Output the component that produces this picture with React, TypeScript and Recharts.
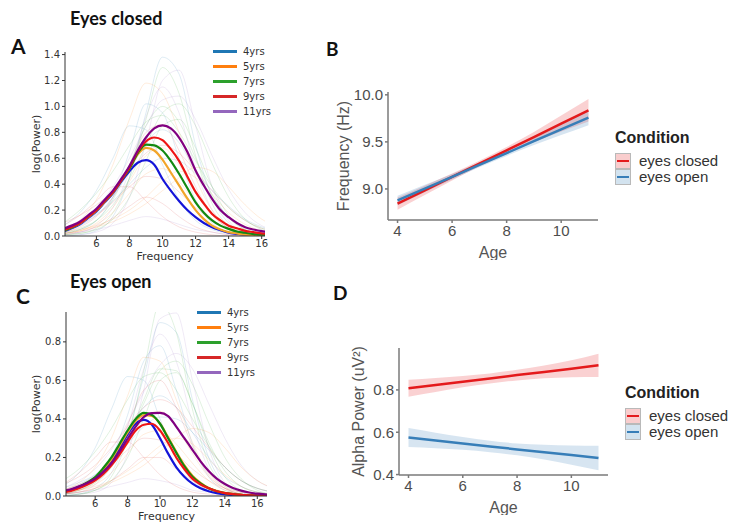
import { LineChart, Line, XAxis, YAxis, ComposedChart, Area } from "recharts";

// ---- panels A / C: spectra per age group ----
const freqFine = [4, 4.5, 5, 5.5, 6, 6.5, 7, 7.5, 8, 8.5, 9, 9.5, 10, 10.5, 11, 11.5, 12, 12.5, 13, 13.5, 14, 14.5, 15, 15.5, 16, 16.5, 17];
const freqCoarse = [4, 5, 6, 7, 8, 9, 10, 11, 12, 13, 14, 15, 16, 17];
const groups = ["4yrs", "5yrs", "7yrs", "9yrs", "11yrs"];
const curveColors = ["#1414d8", "#f2a52a", "#128a12", "#ee1515", "#800080"];
const legendColors = ["#1f77b4", "#ff7f0e", "#2ca02c", "#d62728", "#9467bd"];

const closed4 = [0.035, 0.06, 0.09, 0.14, 0.19, 0.26, 0.33, 0.42, 0.5, 0.565, 0.585, 0.55, 0.44, 0.35, 0.27, 0.2, 0.145, 0.1, 0.068, 0.045, 0.025, 0.017, 0.01, 0.006, 0.003, 0.002, 0.001];
const closed5 = [0.04, 0.065, 0.095, 0.145, 0.195, 0.265, 0.335, 0.43, 0.52, 0.63, 0.68, 0.66, 0.59, 0.49, 0.39, 0.29, 0.2, 0.13, 0.08, 0.05, 0.03, 0.02, 0.01, 0.007, 0.005, 0.003, 0.002];
const closed7 = [0.04, 0.065, 0.1, 0.15, 0.2, 0.27, 0.34, 0.43, 0.52, 0.64, 0.705, 0.7, 0.66, 0.58, 0.48, 0.37, 0.26, 0.18, 0.12, 0.08, 0.055, 0.035, 0.025, 0.015, 0.01, 0.006, 0.004];
const closed9 = [0.045, 0.07, 0.1, 0.15, 0.2, 0.27, 0.34, 0.43, 0.53, 0.65, 0.73, 0.76, 0.74, 0.67, 0.58, 0.46, 0.34, 0.25, 0.17, 0.12, 0.08, 0.06, 0.04, 0.03, 0.02, 0.015, 0.01];
const closed11 = [0.055, 0.08, 0.11, 0.16, 0.21, 0.28, 0.35, 0.44, 0.54, 0.66, 0.76, 0.83, 0.853, 0.83, 0.76, 0.65, 0.506, 0.39, 0.287, 0.2, 0.145, 0.1, 0.068, 0.05, 0.037, 0.03, 0.022];

const open4 = [0.02, 0.03, 0.045, 0.065, 0.09, 0.13, 0.175, 0.245, 0.32, 0.375, 0.395, 0.37, 0.3, 0.22, 0.15, 0.1, 0.064, 0.04, 0.025, 0.015, 0.008, 0.005, 0.003, 0.002, 0.001, 0.001, 0];
const open5 = [0.02, 0.03, 0.045, 0.067, 0.094, 0.14, 0.19, 0.26, 0.33, 0.39, 0.42, 0.415, 0.375, 0.305, 0.23, 0.16, 0.105, 0.068, 0.042, 0.027, 0.016, 0.01, 0.006, 0.004, 0.002, 0.001, 0];
const open7 = [0.022, 0.032, 0.048, 0.07, 0.098, 0.145, 0.2, 0.27, 0.34, 0.4, 0.431, 0.42, 0.375, 0.3, 0.225, 0.155, 0.1, 0.065, 0.04, 0.025, 0.015, 0.01, 0.006, 0.004, 0.002, 0.001, 0];
const open9 = [0.018, 0.026, 0.04, 0.058, 0.081, 0.115, 0.16, 0.215, 0.28, 0.34, 0.37, 0.375, 0.34, 0.275, 0.2, 0.14, 0.09, 0.06, 0.04, 0.025, 0.015, 0.01, 0.006, 0.004, 0.002, 0.001, 0];
const open11 = [0.025, 0.035, 0.05, 0.068, 0.09, 0.125, 0.17, 0.23, 0.297, 0.36, 0.41, 0.43, 0.431, 0.415, 0.36, 0.3, 0.24, 0.18, 0.13, 0.09, 0.062, 0.042, 0.028, 0.018, 0.012, 0.008, 0.005];

// faint individual spectra (1 Hz grid)
const closedSubjects = [
  [0, 0.01, 0.04, 0.15, 0.45, 0.95, 1.38, 1.25, 0.7, 0.3, 0.1, 0.03, 0.01, 0],
  [0.05, 0.12, 0.28, 0.55, 0.9, 1.18, 1.1, 0.8, 0.45, 0.2, 0.08, 0.03, 0.01, 0],
  [0.02, 0.05, 0.12, 0.28, 0.55, 0.85, 1.0, 0.88, 0.6, 0.32, 0.14, 0.05, 0.02, 0.01],
  [0.01, 0.03, 0.07, 0.14, 0.23, 0.3, 0.25, 0.15, 0.07, 0.03, 0.01, 0, 0, 0],
  [0.06, 0.12, 0.22, 0.38, 0.6, 0.85, 1.05, 1.08, 0.9, 0.62, 0.36, 0.18, 0.08, 0.04],
  [0.08, 0.18, 0.35, 0.6, 0.85, 0.82, 0.55, 0.28, 0.12, 0.05, 0.02, 0.01, 0, 0],
  [0.03, 0.05, 0.08, 0.13, 0.2, 0.3, 0.42, 0.5, 0.45, 0.32, 0.18, 0.09, 0.04, 0.02],
  [0.01, 0.02, 0.06, 0.18, 0.45, 0.9, 1.3, 1.1, 0.62, 0.25, 0.08, 0.02, 0.01, 0],
  [0.1, 0.16, 0.24, 0.35, 0.5, 0.64, 0.7, 0.64, 0.5, 0.35, 0.22, 0.12, 0.06, 0.03],
  [0.02, 0.03, 0.05, 0.08, 0.12, 0.15, 0.13, 0.09, 0.05, 0.03, 0.01, 0, 0, 0],
  [0.02, 0.05, 0.12, 0.3, 0.65, 1.02, 0.95, 0.6, 0.28, 0.1, 0.03, 0.01, 0, 0],
  [0.02, 0.04, 0.07, 0.11, 0.17, 0.25, 0.35, 0.45, 0.53, 0.5, 0.38, 0.24, 0.13, 0.07],
  [0.1, 0.2, 0.33, 0.5, 0.7, 0.88, 0.93, 0.8, 0.58, 0.38, 0.22, 0.12, 0.06, 0.03],
  [0.08, 0.16, 0.27, 0.38, 0.38, 0.27, 0.15, 0.07, 0.03, 0.01, 0, 0, 0, 0],
  [0.01, 0.03, 0.08, 0.22, 0.5, 0.92, 1.15, 0.95, 0.52, 0.2, 0.06, 0.02, 0, 0],
  [0.04, 0.08, 0.16, 0.3, 0.5, 0.72, 0.82, 0.72, 0.5, 0.3, 0.15, 0.07, 0.03, 0.01],
  [0.02, 0.04, 0.1, 0.22, 0.42, 0.62, 0.68, 0.55, 0.33, 0.16, 0.06, 0.02, 0.01, 0],
  [0.03, 0.06, 0.12, 0.24, 0.44, 0.7, 0.95, 1.02, 0.85, 0.56, 0.3, 0.13, 0.05, 0.02],
  [0.05, 0.09, 0.16, 0.26, 0.38, 0.46, 0.44, 0.34, 0.22, 0.12, 0.06, 0.03, 0.01, 0],
  [0, 0.01, 0.03, 0.1, 0.3, 0.72, 1.2, 1.28, 0.85, 0.38, 0.12, 0.03, 0.01, 0],
  [0.06, 0.1, 0.17, 0.27, 0.4, 0.53, 0.6, 0.58, 0.48, 0.35, 0.23, 0.13, 0.07, 0.03],
  [0.02, 0.04, 0.09, 0.18, 0.33, 0.48, 0.52, 0.42, 0.26, 0.13, 0.05, 0.02, 0.01, 0],
  [0.01, 0.02, 0.05, 0.13, 0.3, 0.58, 0.85, 0.9, 0.68, 0.38, 0.16, 0.05, 0.02, 0],
  [0.03, 0.07, 0.15, 0.3, 0.55, 0.8, 0.86, 0.66, 0.38, 0.17, 0.06, 0.02, 0.01, 0],
];
const openSubjects = [
  [0, 0.01, 0.04, 0.12, 0.32, 0.62, 0.9, 0.85, 0.5, 0.2, 0.06, 0.02, 0, 0],
  [0.03, 0.07, 0.15, 0.3, 0.52, 0.72, 0.7, 0.5, 0.28, 0.12, 0.05, 0.02, 0.01, 0],
  [0.01, 0.03, 0.07, 0.15, 0.3, 0.5, 0.66, 0.65, 0.48, 0.28, 0.13, 0.05, 0.02, 0.01],
  [0.01, 0.02, 0.04, 0.08, 0.14, 0.2, 0.2, 0.14, 0.08, 0.04, 0.02, 0, 0, 0],
  [0.04, 0.08, 0.14, 0.24, 0.38, 0.54, 0.68, 0.74, 0.66, 0.48, 0.3, 0.16, 0.08, 0.04],
  [0.05, 0.12, 0.25, 0.45, 0.62, 0.6, 0.4, 0.2, 0.08, 0.03, 0.01, 0, 0, 0],
  [0.02, 0.03, 0.05, 0.08, 0.13, 0.19, 0.26, 0.3, 0.27, 0.19, 0.11, 0.05, 0.02, 0.01],
  [0, 0.01, 0.03, 0.1, 0.3, 0.65, 1.0, 0.85, 0.45, 0.17, 0.05, 0.01, 0, 0],
  [0.06, 0.1, 0.16, 0.25, 0.36, 0.46, 0.5, 0.46, 0.36, 0.25, 0.15, 0.08, 0.04, 0.02],
  [0.01, 0.02, 0.03, 0.05, 0.07, 0.09, 0.08, 0.06, 0.03, 0.02, 0.01, 0, 0, 0],
  [0.01, 0.03, 0.08, 0.2, 0.42, 0.7, 0.78, 0.55, 0.27, 0.1, 0.03, 0.01, 0, 0],
  [0.01, 0.02, 0.04, 0.07, 0.11, 0.16, 0.23, 0.3, 0.35, 0.33, 0.25, 0.15, 0.08, 0.04],
  [0.08, 0.14, 0.23, 0.35, 0.5, 0.62, 0.64, 0.55, 0.4, 0.26, 0.15, 0.08, 0.04, 0.02],
  [0.06, 0.12, 0.2, 0.28, 0.28, 0.2, 0.11, 0.05, 0.02, 0.01, 0, 0, 0, 0],
  [0.01, 0.02, 0.06, 0.16, 0.36, 0.66, 0.84, 0.7, 0.38, 0.14, 0.04, 0.01, 0, 0],
  [0.03, 0.06, 0.11, 0.2, 0.33, 0.46, 0.52, 0.46, 0.33, 0.2, 0.1, 0.05, 0.02, 0.01],
  [0.02, 0.03, 0.07, 0.15, 0.27, 0.4, 0.44, 0.36, 0.22, 0.1, 0.04, 0.01, 0, 0],
  [0.02, 0.04, 0.08, 0.16, 0.3, 0.48, 0.65, 0.7, 0.58, 0.38, 0.2, 0.09, 0.03, 0.01],
  [0.03, 0.06, 0.1, 0.16, 0.24, 0.3, 0.29, 0.22, 0.14, 0.08, 0.04, 0.02, 0.01, 0],
  [0, 0.01, 0.02, 0.07, 0.22, 0.55, 0.92, 0.95, 0.6, 0.25, 0.07, 0.02, 0, 0],
  [0.04, 0.07, 0.11, 0.18, 0.27, 0.36, 0.41, 0.4, 0.33, 0.24, 0.15, 0.08, 0.04, 0.02],
  [0.01, 0.03, 0.06, 0.12, 0.22, 0.32, 0.34, 0.27, 0.17, 0.08, 0.03, 0.01, 0, 0],
  [0.01, 0.01, 0.03, 0.08, 0.2, 0.4, 0.6, 0.64, 0.48, 0.26, 0.1, 0.03, 0.01, 0],
  [0.02, 0.05, 0.1, 0.2, 0.37, 0.55, 0.6, 0.46, 0.26, 0.11, 0.04, 0.01, 0, 0],
];

// ---- panels B / D: regression lines ----
const ages = [4, 5, 6, 7, 8, 9, 10, 11];
const peakFreqClosed = [8.843, 8.985, 9.127, 9.27, 9.41, 9.55, 9.695, 9.836];
const peakFreqClosedSe = [0.065, 0.05, 0.037, 0.03, 0.035, 0.055, 0.085, 0.12];
const peakFreqOpen = [8.878, 9.004, 9.129, 9.255, 9.381, 9.507, 9.632, 9.758];
const peakFreqOpenSe = [0.05, 0.04, 0.03, 0.025, 0.03, 0.04, 0.06, 0.08];
const powerClosed = [0.808, 0.823, 0.839, 0.854, 0.87, 0.885, 0.9, 0.916];
const powerClosedSe = [0.04, 0.033, 0.027, 0.024, 0.025, 0.03, 0.04, 0.055];
const powerOpen = [0.575, 0.561, 0.547, 0.533, 0.519, 0.506, 0.492, 0.478];
const powerOpenSe = [0.045, 0.037, 0.03, 0.027, 0.028, 0.035, 0.045, 0.058];

const RED = "#e41a1c";
const BLUE = "#377eb8";

function spectraRows(means: number[][], subjects: number[][]) {
  return freqFine.map((f, i) => {
    const row: Record<string, number> = { f };
    means.forEach((m, g) => (row["g" + g] = m[i]));
    const ci = freqCoarse.indexOf(f);
    if (ci >= 0) subjects.forEach((s, k) => (row["s" + k] = s[ci]));
    return row;
  });
}

function regRows(c: number[], cse: number[], o: number[], ose: number[]) {
  return ages.map((age, i) => ({
    age,
    closed: c[i],
    closedBand: [c[i] - cse[i], c[i] + cse[i]],
    open: o[i],
    openBand: [o[i] - ose[i], o[i] + ose[i]],
  }));
}

const mplFont = "'DejaVu Sans', sans-serif";
const ggFont = "'Liberation Sans', Arial, sans-serif";

// plot bottom sits at y=236 inside each spectra chart, the svg runs a bit lower for the axis title
function SpectraPanel(props: {
  means: number[][];
  subjects: number[][];
  height: number;
  yMax: number;
  xMin: number;
  xMax: number;
  yTicks: number[];
  right: number;
  yAxisWidth: number;
  labelOffset: number;
}) {
  const data = spectraRows(props.means, props.subjects);
  const tick = { fontSize: 10, fill: "#333", fontFamily: mplFont };
  return (
    <LineChart
      width={280}
      height={props.height}
      data={data}
      margin={{ top: 52, right: props.right, bottom: 0, left: 0 }}
    >
      <XAxis
        dataKey="f"
        type="number"
        domain={[props.xMin, props.xMax]}
        allowDataOverflow
        ticks={[6, 8, 10, 12, 14, 16]}
        tick={tick}
        tickSize={3}
        tickMargin={1}
        height={props.height - 236}
        stroke="#333"
        label={{ value: "Frequency", position: "insideBottom", offset: props.labelOffset, style: { fontSize: 11, fill: "#333", fontFamily: mplFont } }}
      />
      <YAxis
        type="number"
        domain={[0, props.yMax]}
        allowDataOverflow
        ticks={props.yTicks}
        tickFormatter={(v: number) => v.toFixed(1)}
        tick={tick}
        tickSize={3}
        tickMargin={2}
        width={props.yAxisWidth}
        stroke="#333"
        label={{ value: "log(Power)", angle: -90, position: "insideLeft", offset: 36, style: { textAnchor: "middle", fontSize: 11, fill: "#333", fontFamily: mplFont } }}
      />
      {props.subjects.map((_, k) => (
        <Line
          key={"s" + k}
          dataKey={"s" + k}
          type="monotone"
          stroke={legendColors[k % 5]}
          strokeOpacity={0.14}
          strokeWidth={1}
          dot={false}
          connectNulls
          isAnimationActive={false}
        />
      ))}
      {props.means.map((_, g) => (
        <Line
          key={"g" + g}
          dataKey={"g" + g}
          type="monotone"
          stroke={curveColors[g]}
          strokeWidth={2.2}
          dot={false}
          isAnimationActive={false}
        />
      ))}
    </LineChart>
  );
}

function AgeLegend({ left, top }: { left: number; top: number }) {
  return (
    <div style={{ position: "absolute", left, top, fontFamily: mplFont, fontSize: 10, color: "#333" }}>
      {groups.map((g, i) => (
        <div key={g} style={{ position: "absolute", left: 0, top: i * 15, width: 80, height: 12, display: "flex", alignItems: "center" }}>
          <div style={{ width: 24, height: 3, background: legendColors[i], marginRight: 6 }} />
          <span>{g}</span>
        </div>
      ))}
    </div>
  );
}

function RegPanel(props: {
  rows: ReturnType<typeof regRows>;
  width: number;
  height: number;
  top: number;
  yAxisWidth: number;
  yDomain: [number, number];
  yTicks: number[];
  yFormat: (v: number) => string;
  yLabel: string;
  yLabelOffset: number;
}) {
  const tick = { fontSize: 15, fill: "#4d4d4d", fontFamily: ggFont };
  const title = { fontSize: 16, fill: "#555", fontFamily: ggFont };
  return (
    <ComposedChart
      width={props.width}
      height={props.height}
      data={props.rows}
      margin={{ top: props.top, right: 12, bottom: 0, left: 0 }}
    >
      <XAxis
        dataKey="age"
        type="number"
        domain={[3.65, 11.35]}
        allowDataOverflow
        ticks={[4, 6, 8, 10]}
        tick={tick}
        tickSize={3}
        tickMargin={2}
        height={40}
        stroke="#7a7a7a"
        strokeWidth={1.5}
        label={{ value: "Age", position: "insideBottom", offset: 2, style: { ...title, textAnchor: "middle" } }}
      />
      <YAxis
        type="number"
        domain={props.yDomain}
        allowDataOverflow
        ticks={props.yTicks}
        tickFormatter={props.yFormat}
        tick={tick}
        tickSize={3}
        tickMargin={2}
        width={props.yAxisWidth}
        stroke="#7a7a7a"
        strokeWidth={1.5}
        label={{ value: props.yLabel, angle: -90, position: "insideLeft", offset: props.yLabelOffset, style: { ...title, textAnchor: "middle" } }}
      />
      <Area dataKey="closedBand" type="monotone" stroke="none" fill={RED} fillOpacity={0.2} isAnimationActive={false} />
      <Area dataKey="openBand" type="monotone" stroke="none" fill={BLUE} fillOpacity={0.2} isAnimationActive={false} />
      <Line dataKey="closed" type="linear" stroke={RED} strokeWidth={2.5} dot={false} isAnimationActive={false} />
      <Line dataKey="open" type="linear" stroke={BLUE} strokeWidth={2.5} dot={false} isAnimationActive={false} />
    </ComposedChart>
  );
}

function ConditionLegend({ left, top, pitch }: { left: number; top: number; pitch: number }) {
  const items = [
    { label: "eyes closed", color: RED, fill: "rgba(228,26,28,0.22)" },
    { label: "eyes open", color: BLUE, fill: "rgba(55,126,184,0.22)" },
  ];
  return (
    <div style={{ position: "absolute", left, top, fontFamily: ggFont, color: "#222", whiteSpace: "nowrap" }}>
      <div style={{ fontSize: 16, fontWeight: 700, lineHeight: "18px" }}>Condition</div>
      {items.map((it, i) => (
        <div key={it.label} style={{ position: "absolute", left: 0, top: 24 + i * pitch, height: pitch, display: "flex", alignItems: "center" }}>
          <div style={{ width: 14, height: pitch - 2, background: it.fill, border: "1px solid #b9b9b9", display: "flex", alignItems: "center", justifyContent: "center" }}>
            <div style={{ width: 12, height: 2.5, background: it.color }} />
          </div>
          <span style={{ fontSize: 15, marginLeft: 8, lineHeight: pitch + "px", color: "#333" }}>{it.label}</span>
        </div>
      ))}
    </div>
  );
}

const heading = { position: "absolute" as const, fontFamily: "Lato, 'Open Sans', sans-serif", fontWeight: 700, color: "#111", lineHeight: 1 };

export default function App() {
  return (
    <div style={{ position: "absolute", left: 0, top: 0, width: 731, height: 522, background: "#fff", overflow: "hidden" }}>
      <div style={{ ...heading, left: 70, top: 9, fontSize: 18 }}>Eyes closed</div>
      <div style={{ ...heading, left: 11, top: 35, fontSize: 21 }}>A</div>
      <div style={{ ...heading, left: 326, top: 39, fontSize: 19 }}>B</div>
      <div style={{ ...heading, left: 70, top: 272, fontSize: 18 }}>Eyes open</div>
      <div style={{ ...heading, left: 16, top: 285, fontSize: 21 }}>C</div>
      <div style={{ ...heading, left: 333, top: 283, fontSize: 19 }}>D</div>

      <div style={{ position: "absolute", left: 0, top: 0 }}>
        <SpectraPanel
          means={[closed4, closed5, closed7, closed9, closed11]}
          subjects={closedSubjects}
          height={266}
          yMax={1.42}
          xMin={4.1}
          xMax={16.2}
          yTicks={[0, 0.2, 0.4, 0.6, 0.8, 1.0, 1.2, 1.4]}
          right={15}
          yAxisWidth={65}
          labelOffset={6}
        />
      </div>
      <AgeLegend left={213} top={45} />

      <div style={{ position: "absolute", left: 0, top: 260 }}>
        <SpectraPanel
          means={[open4, open5, open7, open9, open11]}
          subjects={openSubjects}
          height={268}
          yMax={0.955}
          xMin={4.2}
          xMax={16.6}
          yTicks={[0, 0.2, 0.4, 0.6, 0.8]}
          right={13}
          yAxisWidth={66}
          labelOffset={8}
        />
      </div>
      <AgeLegend left={197} top={306} />

      <div style={{ position: "absolute", left: 280, top: 30 }}>
        <RegPanel
          rows={regRows(peakFreqClosed, peakFreqClosedSe, peakFreqOpen, peakFreqOpenSe)}
          width={330}
          height={230}
          top={62}
          yAxisWidth={108}
          yDomain={[8.67, 10.03]}
          yTicks={[9.0, 9.5, 10.0]}
          yFormat={(v: number) => v.toFixed(1)}
          yLabel="Frequency (Hz)"
          yLabelOffset={63}
        />
      </div>
      <ConditionLegend left={615} top={129} pitch={16} />

      <div style={{ position: "absolute", left: 280, top: 300 }}>
        <RegPanel
          rows={regRows(powerClosed, powerClosedSe, powerOpen, powerOpenSe)}
          width={340}
          height={215}
          top={48}
          yAxisWidth={119}
          yDomain={[0.398, 0.998]}
          yTicks={[0.4, 0.6, 0.8]}
          yFormat={(v: number) => v.toFixed(1)}
          yLabel="Alpha Power (uV²)"
          yLabelOffset={78}
        />
      </div>
      <ConditionLegend left={625} top={384} pitch={16} />
    </div>
  );
}
